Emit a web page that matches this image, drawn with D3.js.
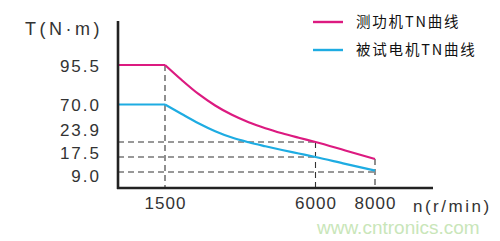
<!DOCTYPE html>
<html><head><meta charset="utf-8">
<script src="https://cdn.jsdelivr.net/npm/d3@7"></script>
<style>
html,body{margin:0;padding:0;background:#fff;}
svg{display:block;}
</style></head>
<body>
<svg id="chart" width="500" height="241"></svg>
<script>
// ---- data ----
const speeds      = [0, 1500, 2000, 2500, 3000, 3500, 4000, 4500, 5000, 5500, 6000, 7000, 8000];
const dynoTorque  = [95.5, 95.5, 85.8, 76.8, 68.8, 57.3, 48.2, 40.9, 34.7, 29.2, 23.9, 20.3, 16.4];
const motorTorque = [70.0, 70.0, 58.3, 47.0, 37.2, 29.4, 23.8, 22.1, 20.5, 19.0, 17.5, 13.6, 9.8];
const yTickValues = [95.5, 70.0, 23.9, 17.5, 9.0];
const yTickLabels = ["95.5", "70.0", "23.9", "17.5", "9.0"];
const xTickValues = [1500, 6000, 8000];
const seriesNames = ["测功机TN曲线", "被试电机TN曲线"];
const yTitle = "T(N·m)";
const xTitle = "n(r/min)";
const watermark = "www.cntronics.com";
// reference guides: [torque, speed] and [speed, torque]
const hGuides = [[23.9, 6000], [17.5, 6000], [9.0, 8000]];
const vGuides = [[1500, 95.5], [6000, 23.9], [8000, 16.4]];

// ---- scales (schematic, piecewise) ----
const x = d3.scaleLinear().domain([0, 1500, 6000, 8000, 10000]).range([118, 165, 315.5, 375, 433]);
const y = d3.scaleLinear().domain([0, 9, 17.5, 23.9, 70, 95.5, 124]).range([188, 172, 157, 142, 104.5, 65, 21]);

const svg = d3.select("#chart");
const magenta = "#dc1a80", cyan = "#1eace2";
const numFont = "'Liberation Sans', Arial, sans-serif";

// watermark
svg.append("text").attr("x", 317).attr("y", 234).text(watermark)
  .attr("font-family", numFont).attr("font-size", 19).attr("fill", "#c9e6b9");

// guides
const dash = "6,4";
svg.append("g").selectAll("line").data(hGuides).join("line")
  .attr("x1", x(0)).attr("x2", d => x(d[1]))
  .attr("y1", d => y(d[0])).attr("y2", d => y(d[0]))
  .attr("stroke", "#333").attr("stroke-width", 1.1).attr("stroke-dasharray", dash);
svg.append("g").selectAll("line").data(vGuides).join("line")
  .attr("x1", d => x(d[0])).attr("x2", d => x(d[0]))
  .attr("y1", d => y(d[1])).attr("y2", y(0))
  .attr("stroke", "#333").attr("stroke-width", 1.1).attr("stroke-dasharray", dash);

// curves
function drawSeries(vals, color) {
  const pts = speeds.map((s, i) => [x(s), y(vals[i])]);
  const flat = d3.line()(pts.slice(0, 2));
  const curve = d3.line().curve(d3.curveMonotoneX)(pts.slice(1));
  svg.append("path").attr("d", flat + curve).attr("fill", "none")
    .attr("stroke", color).attr("stroke-width", 2.2);
}
drawSeries(dynoTorque, magenta);
drawSeries(motorTorque, cyan);

// axes
const yAxis = d3.axisLeft(y).tickValues(yTickValues).tickSize(0).tickPadding(17)
  .tickFormat((d, i) => yTickLabels[i]);
const gy = svg.append("g").attr("transform", `translate(${x(0)},0)`).call(yAxis);
gy.select(".domain").remove();
gy.selectAll("text").attr("font-family", numFont).attr("font-size", 17)
  .attr("letter-spacing", 2).attr("fill", "#333").attr("dy", "0.36em");

// de-overlap y labels (relaxation with bottom clamp)
const pos = yTickValues.map(v => y(v));
const minGap = 23, maxPos = y(0) - 13;
for (let it = 0; it < 200; it++) {
  for (let i = 0; i < pos.length - 1; i++) {
    const gap = pos[i + 1] - pos[i];
    if (gap < minGap) { const d = (minGap - gap) / 2; pos[i] -= d; pos[i + 1] += d; }
  }
  for (let i = 0; i < pos.length; i++) pos[i] = Math.min(pos[i], maxPos);
}
gy.selectAll(".tick text").attr("y", (d, i) => pos[i] - y(d));

const xAxis = d3.axisBottom(x).tickValues(xTickValues).tickSize(0).tickPadding(9)
  .tickFormat(d3.format("d"));
const gx = svg.append("g").attr("transform", `translate(0,${y(0)})`).call(xAxis);
gx.select(".domain").remove();
gx.selectAll("text").attr("font-family", numFont).attr("font-size", 17)
  .attr("letter-spacing", 1).attr("fill", "#333");

// axis lines
svg.append("line").attr("x1", x(0)).attr("x2", x(0)).attr("y1", y(124)).attr("y2", y(0) + 1)
  .attr("stroke", "#222").attr("stroke-width", 2.6);
svg.append("line").attr("x1", x(0) - 1).attr("x2", x(10000)).attr("y1", y(0)).attr("y2", y(0))
  .attr("stroke", "#222").attr("stroke-width", 2.6);

// titles
svg.append("text").attr("x", 25).attr("y", 35).text(yTitle)
  .attr("font-family", numFont).attr("font-size", 18).attr("letter-spacing", 3.5).attr("fill", "#333");
svg.append("text").attr("x", 413).attr("y", 212).text(xTitle)
  .attr("font-family", numFont).attr("font-size", 17).attr("letter-spacing", 2.5).attr("fill", "#333");

// legend
const colors = [magenta, cyan];
const lg = svg.append("g").selectAll("g").data(seriesNames).join("g")
  .attr("transform", (d, i) => `translate(313,${22 + i * 28})`);
lg.append("line").attr("x1", 0).attr("x2", 30).attr("y1", 0).attr("y2", 0)
  .attr("stroke", (d, i) => colors[i]).attr("stroke-width", 2.4);
lg.append("text").attr("x", 43).attr("y", 0).attr("dy", "0.35em").text(d => d)
  .attr("font-family", "'Noto Sans CJK SC', sans-serif").attr("font-size", 14.5)
  .attr("letter-spacing", 1.8).attr("fill", "#111");
</script>
</body></html>
